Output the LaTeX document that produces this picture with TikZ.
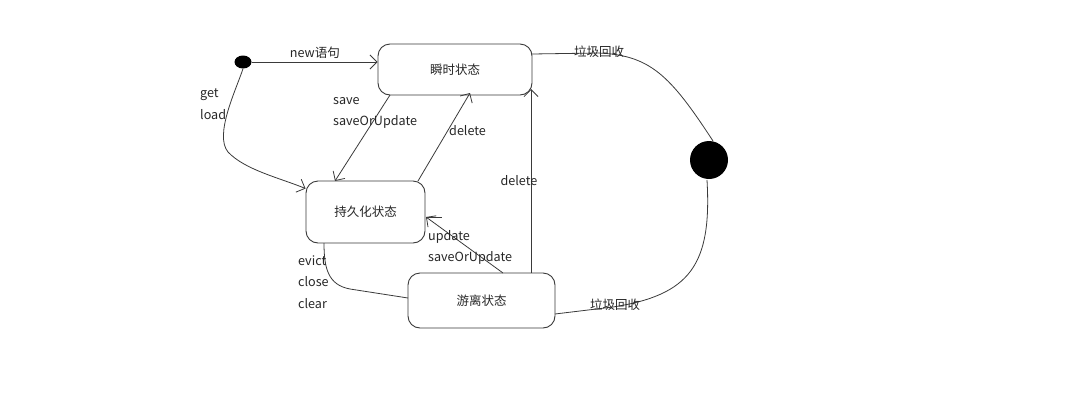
\documentclass[tikz,border=0pt]{standalone}
\usepackage{fontspec}
\setmainfont{Noto Sans CJK SC}
\usetikzlibrary{arrows.meta,shapes.geometric,calc}
\definecolor{ln}{HTML}{3A3A3A}
\tikzset{
  state/.style={draw=ln, line width=0.9pt, rounded corners=12pt, fill=white, inner sep=0pt, font=\fontsize{12.5}{14}\selectfont, text=black!85},
  conn/.style={draw=ln, line width=0.8pt},
  arr/.style={conn, -{Straight Barb[length=7pt,width=14pt,line width=0.8pt]}},
  lbl/.style={font=\fontsize{12.6}{14}\selectfont, text=black!85, inner sep=1pt},
  clbl/.style={font=\fontsize{12.5}{14}\selectfont, text=black!85, inner sep=0pt}
}
\begin{document}
\begin{tikzpicture}[x=1pt,y=-1pt]
\useasboundingbox (0,0) rectangle (1080,413);
% nodes
\node[state, minimum width=154pt, minimum height=51pt] (tr) at (455,69.5) {瞬时状态};
\node[state, minimum width=119pt, minimum height=62pt] (pe) at (365.5,212) {持久化状态};
\node[state, minimum width=147pt, minimum height=55pt] (de) at (481.5,300.5) {游离状态};
\node[ellipse, fill=black, minimum width=17pt, minimum height=13pt, inner sep=0pt] (st) at (243,62) {};
\node[circle, fill=black, minimum size=38pt, inner sep=0pt] (en) at (709,160) {};
% start -> transient
\draw[arr] (st.east) -- (tr.west |- st.east);
\node[lbl] (l1) at (315,53) {new语句};
% start -> persistent
\draw[arr] (st.south) .. controls (236,90) and (214,135) .. (228,152) .. controls (245,170) and (280,178) .. ($(pe.north west)+(0,8)$);
\node[lbl, anchor=west] (l2) at (199,95) {get};
\node[lbl, anchor=west] (l3) at (199,115) {load};
% transient -> persistent
\draw[arr] (390,95) -- (335,181);
\node[lbl, anchor=west] (l4) at (332,101) {save};
\node[lbl, anchor=west] (l5) at (332,122) {saveOrUpdate};
% persistent -> transient
\draw[arr] (418,181) -- (470,93);
\node[lbl, anchor=west] (l6) at (448,131) {delete};
% detached -> transient
\draw[arr] (531,273) -- (531,89);
\node[lbl] (l7) at (519,181) {delete};
% detached -> persistent
\draw[arr] (503,273) -- (426,217);
\draw[conn] (426,217) -- (442,217);
\node[lbl, anchor=west] (l8) at (427,237) {update};
\node[lbl, anchor=west] (l9) at (427,258) {saveOrUpdate};
% persistent -> detached
\draw[conn] (324,243) .. controls (324,268) and (328,285) .. (350,289) -- (408,298);
\node[lbl, anchor=west] (l10) at (297,261) {evict};
\node[lbl, anchor=west] (l11) at (297,282) {close};
\node[lbl, anchor=west] (l12) at (297,304) {clear};
% transient -> end
\draw[conn] (532,54) -- (598,53) .. controls (650,55) and (670,75) .. (713,141);
\node[clbl] (l13) at (599,52) {垃圾回收};
% detached -> end
\draw[conn] (555,314) -- (613,307) .. controls (690,295) and (712,265) .. (707,180);
\node[clbl] (l14) at (615,305) {垃圾回收};
\end{tikzpicture}
\end{document}
